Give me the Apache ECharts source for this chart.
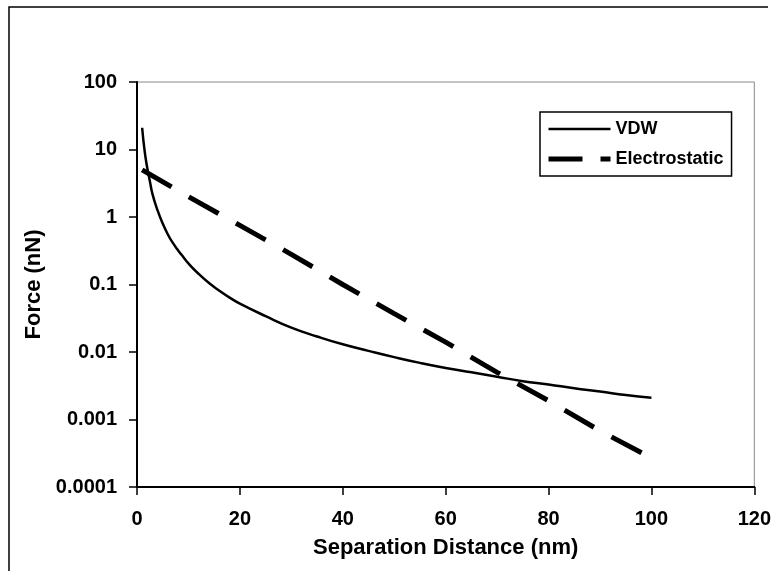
<!DOCTYPE html>
<html>
<head>
<meta charset="utf-8">
<script src="https://cdn.jsdelivr.net/npm/echarts@6/dist/echarts.min.js"></script>
<style>
html,body{margin:0;padding:0;background:#fff;}
#chart{width:774px;height:571px;}
</style>
</head>
<body>
<div id="chart"></div>
<script>
// Data
const vdwX = [1, 1.5, 2, 2.5, 3, 4, 5, 6, 7, 8, 9, 10, 12, 14, 16, 18, 20, 25, 30, 35, 40, 45, 50, 55, 60, 65, 70, 75, 80, 85, 90, 95, 100];
const vdwY = [21, 9.3, 5.3, 3.4, 2.2, 1.25, 0.8, 0.55, 0.41, 0.32, 0.255, 0.205, 0.143, 0.105, 0.081, 0.064, 0.052, 0.034, 0.023, 0.017, 0.013, 0.0104, 0.0084, 0.0069, 0.0058, 0.005, 0.0043, 0.0037, 0.0033, 0.0029, 0.0026, 0.0023, 0.0021];
const elecX = [1, 10, 20, 30, 40, 50, 60, 70, 80, 90, 100];
const elecY = [5.0, 2.0, 0.75, 0.28, 0.10, 0.037, 0.014, 0.005, 0.0019, 0.00068, 0.00027];
const xTicks = [0, 20, 40, 60, 80, 100, 120];
const yTickLabels = ['0.0001', '0.001', '0.01', '0.1', '1', '10', '100'];
const seriesNames = ['VDW', 'Electrostatic'];

const font = 'Liberation Sans, Arial, sans-serif';
const chart = echarts.init(document.getElementById('chart'));
chart.setOption({
  animation: false,
  backgroundColor: '#fff',
  grid: {left: 137, top: 82, right: 13, bottom: 84, show: true, borderColor: '#888', borderWidth: 1},
  legend: {
    left: 540, top: 112, orient: 'vertical',
    data: [
      {name: seriesNames[0], itemStyle: {opacity: 0}, lineStyle: {width: 2.5, color: '#000', type: 'solid'}},
      {name: seriesNames[1], itemStyle: {opacity: 0}, lineStyle: {width: 5, color: '#000', type: [34, 18]}}
    ],
    itemWidth: 62, itemHeight: 14, itemGap: 12,
    borderColor: '#000', borderWidth: 1.5, padding: [8, 8, 8, 6],
    textStyle: {fontFamily: font, fontWeight: 'bold', fontSize: 18, color: '#000', lineHeight: 18}
  },
  xAxis: {
    type: 'value', min: xTicks[0], max: xTicks[xTicks.length - 1], interval: 20,
    name: 'Separation Distance (nm)', nameLocation: 'middle', nameGap: 50,
    nameTextStyle: {fontFamily: font, fontWeight: 'bold', fontSize: 22, color: '#000'},
    axisLine: {lineStyle: {color: '#000', width: 2}},
    axisTick: {show: true, length: 8, lineStyle: {color: '#000', width: 1.5}},
    axisLabel: {fontFamily: font, fontWeight: 'bold', fontSize: 20, color: '#000', margin: 22},
    splitLine: {show: false}
  },
  yAxis: {
    type: 'log', logBase: 10, min: 0.0001, max: 100,
    name: 'Force (nN)', nameLocation: 'middle', nameGap: 90, nameRotate: 90,
    nameTextStyle: {fontFamily: font, fontWeight: 'bold', fontSize: 22, color: '#000'},
    axisLine: {show: true, lineStyle: {color: '#000', width: 2}},
    axisTick: {show: true, length: 8, lineStyle: {color: '#000', width: 1.5}},
    axisLabel: {fontFamily: font, fontWeight: 'bold', fontSize: 20, color: '#000', margin: 20,
      formatter: function (v) { return yTickLabels[Math.round(Math.log10(v)) + 4]; }},
    splitLine: {show: false}
  },
  series: [
    {
      name: seriesNames[0], type: 'line', showSymbol: false, symbol: 'none', smooth: true,
      data: vdwX.map((x, i) => [x, vdwY[i]]),
      lineStyle: {color: '#000', width: 2.5},
      itemStyle: {color: '#000'}
    },
    {
      name: seriesNames[1], type: 'line', showSymbol: false, symbol: 'none',
      data: elecX.map((x, i) => [x, elecY[i]]),
      lineStyle: {color: '#000', width: 5, type: [34, 20]},
      itemStyle: {color: '#000'}
    }
  ],
  graphic: [
    {type: 'polyline', shape: {points: [[9, 571], [9, 7], [768, 7]]}, style: {stroke: '#000', lineWidth: 1.5, fill: null}, silent: true}
  ]
});
</script>
</body>
</html>
